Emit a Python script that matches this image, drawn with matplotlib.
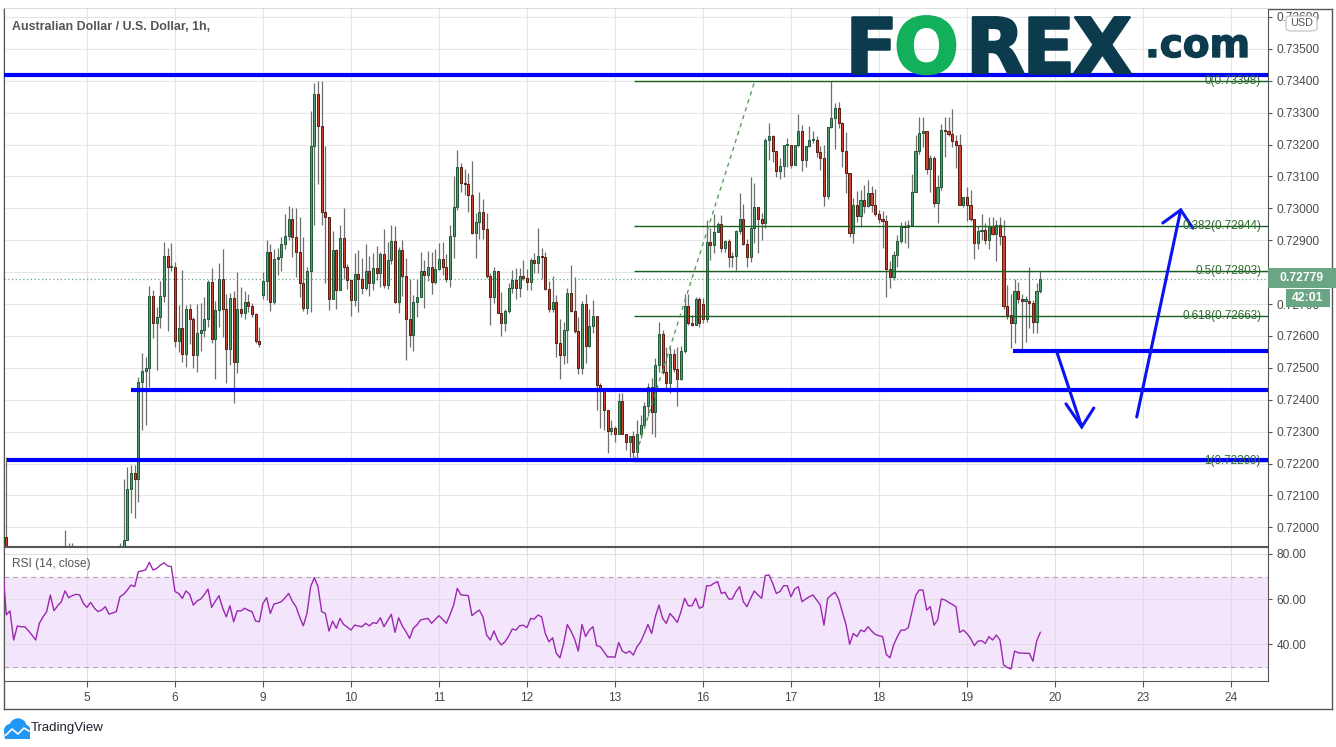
import numpy as np
import matplotlib
matplotlib.use("Agg")
import matplotlib.pyplot as plt
import matplotlib.patheffects as pe
from matplotlib.ticker import FuncFormatter, FormatStrFormatter
from matplotlib.patches import Rectangle, FancyBboxPatch, Circle
from matplotlib.lines import Line2D

plt.rcParams['font.family'] = ['Liberation Sans', 'DejaVu Sans']

W, H = 1336, 747

# AUD/USD 1h candles, values in pips above 0.7200
# bar 0 = first hour of day "5", one bar per hour, weekends skipped
first_bar = -23
first_open = -5
closes = [
    -3, -14, -13, -19, -16, -16, -16, -17, -18, -19,
    -16, -14, -13, -10, -12, -11, -10, -8, -9, -8.5,
    -8, -8, -9, -10, -9, -10, -11, -10.5, -10, -11,
    -11, -10.5, -8, -4, 12, 17, 15, 45.7, 49, 50,
    72.5, 64, 66, 72.5, 85, 81.5, 81.5, 58.5, 62.4, 54.2,
    68.6, 65.2, 53.9, 60.8, 62, 65.2, 76.9, 59.1, 68.1, 78,
    68.6, 55.8, 71.8, 51.8, 68.3, 67.1, 70.7, 69.4, 66.8, 58.5,
    57.4, 77.2, 86.2, 70.5, 84, 84.8, 88.8, 91.3, 96.8, 90.9,
    86.4, 76.5, 68.9, 80.4, 119.7, 136, 125.9, 98.7, 97.2, 71.5,
    86.9, 74.4, 90.6, 81.5, 77.5, 71.2, 79.4, 78, 74.9, 80.3,
    76.7, 81.2, 79.6, 85.7, 75.9, 83.7, 89.7, 70.5, 86.9, 78.8,
    65.2, 60.2, 70.5, 72.3, 80.4, 79, 81.7, 76.8, 81.1, 84.2,
    81.5, 77.8, 91.4, 100.3, 113, 108, 107.6, 104.2, 92.3, 95.8,
    98.9, 93.4, 78.9, 72.1, 80.3, 67.3, 64.2, 67.9, 74.9, 77.5,
    74.9, 78.8, 78.3, 77, 83.8, 83, 85.1, 84.6, 74.6, 68.6,
    70.7, 57.9, 53.9, 62, 73.6, 67.9, 61.6, 50.1, 69.9, 56.9,
    63.2, 66.3, 44.5, 43, 36.8, 30.2, 31, 29.4, 39.5, 29.4,
    26.8, 28.7, 23.7, 29.2, 32, 38, 44, 36.2, 50.8, 60.5,
    48.8, 45.3, 54.2, 49.5, 46.4, 55.3, 69.4, 64.2, 63.5, 71.7,
    64.2, 65.2, 89.5, 88.5, 92.7, 95.1, 87.6, 89.7, 84.8, 85,
    92.9, 96.8, 88.7, 84.6, 93.7, 100.3, 96.7, 95.3, 121.4, 122.7,
    118, 111.7, 113.3, 119.8, 119.8, 113.5, 119.8, 124.2, 115.1, 119.5,
    121.4, 121.4, 117.7, 115.7, 104, 125.4, 128.2, 131.6, 126.9, 118,
    111.2, 92.3, 101.2, 97.6, 102.7, 100.8, 104.7, 101.2, 98.2, 96.6,
    96.1, 80.9, 78.6, 85.4, 89.8, 94.5, 94.2, 94.9, 105, 118,
    123.5, 124.2, 112.2, 115.7, 101.8, 106.6, 124.6, 124.2, 123.3, 121.2,
    119.9, 101.2, 103.6, 101, 96.8, 89.2, 92.9, 93.1, 90, 94.4,
    92.1, 94.7, 91.3, 69.5, 66.6, 64.2, 74.1, 71.5, 71.1, 71.1,
    70.4, 64.4, 74.1, 77.8]
highs = [
    -2, 22, -10, -12, -14, -13, -14, -14, -15, -16,
    -14, -12, -11, -8, -9, -9, -8, -1, -5, -5,
    -6, -7, -7, -8, -8, -8, -9, -9, -8, -9,
    -9, -8, -5, 15, 19, 19.5, 19.5, 47.2, 54.8, 53.5,
    75.6, 74.4, 69.1, 77.3, 89.5, 87.7, 89.2, 83.3, 69.7, 80.6,
    69.6, 69.9, 66, 69.9, 70.3, 72.2, 77.5, 81.2, 71, 82.9,
    87.4, 73.3, 73.5, 74.2, 80, 75.4, 74.1, 73.3, 70.2, 67.1,
    62.9, 80, 90, 88.9, 87.1, 87.7, 91.1, 98.2, 100.7, 100,
    100, 97.4, 91.1, 81.5, 130.6, 139.4, 140, 140, 119.7, 97.4,
    93, 87.4, 94.8, 100.1, 82.5, 77.5, 86.1, 86.9, 84.4, 88.8,
    85, 86.1, 88.2, 86.4, 93.5, 89.5, 94.8, 94.5, 88, 90,
    84.3, 78, 72.8, 78, 86.4, 83.8, 86.7, 86.4, 87.1, 89,
    89.5, 85.7, 94.8, 110.1, 118.3, 114.3, 112.2, 111, 114.8, 98.6,
    105, 102.8, 98.6, 79.6, 81.7, 80.3, 73.9, 68.3, 76.5, 80.6,
    81.2, 81.2, 83.8, 80.9, 84.3, 86.1, 93.8, 87.7, 86.2, 77.3,
    78.9, 72.8, 65.2, 64.4, 75.1, 82.2, 78.6, 66, 70.9, 73.3,
    68.3, 71.2, 66, 45.3, 43, 36.8, 33.6, 31.7, 42, 42,
    29.4, 28.7, 30.3, 33.8, 35.1, 39.4, 45.3, 46.7, 53, 64.4,
    62, 56.6, 56.6, 55.8, 56.6, 56.8, 73.3, 73.3, 66.5, 72.3,
    72.3, 72, 96.3, 93.7, 98.2, 95.8, 97.9, 90, 90.3, 86.4,
    93.2, 104.7, 101.5, 90.3, 109.9, 108, 100.5, 98.4, 121.9, 126.8,
    123, 118.1, 115.7, 119.8, 121.9, 119.8, 119.8, 129.6, 126.1, 119.5,
    125.8, 124.3, 122.7, 119.5, 119.8, 125.4, 139.8, 132.9, 133.4, 127.1,
    124, 111.2, 103.1, 105.5, 105.7, 107.3, 108.9, 107, 106.2, 99.5,
    99.2, 97.9, 83.5, 86.7, 91.6, 95.6, 96.1, 96.3, 110.7, 123,
    128.5, 128.5, 124.2, 116.7, 116.4, 110.4, 126.6, 128.7, 128.5, 131,
    123, 123.3, 103.6, 106.6, 105.7, 96.8, 94.4, 98.2, 95.5, 97.4,
    97.4, 96.3, 97.4, 96.3, 75.9, 73.3, 78, 77, 73.3, 72.5,
    81.7, 71.4, 76.5, 80.5]
lows = [
    -6, -18, -16, -22, -21, -19, -19, -20, -21, -22,
    -20, -17, -15, -14, -14, -13, -12, -11, -11, -10,
    -10, -10, -11, -12, -11, -12, -13, -12, -12, -13,
    -13, -12, -12, -9, -4, 4.5, 3, 8, 30.5, 32,
    44, 59.5, 49.3, 62.4, 70.7, 61.6, 80.4, 56.6, 55, 51.9,
    50.3, 57.5, 50, 48.8, 55.2, 59.6, 62.9, 57.9, 46.4, 62.9,
    59.7, 45.3, 50.9, 39.1, 48.5, 66, 65.2, 67.6, 66, 57.9,
    56.6, 71.7, 71.4, 67.9, 69.9, 79.1, 80.4, 87.4, 90, 84.6,
    78.6, 72.1, 67.9, 66.8, 67.6, 94.8, 107.6, 94.8, 76.5, 68.1,
    71.5, 68.6, 74.4, 78, 74.8, 66.2, 69.4, 67.6, 73.3, 74.4,
    72.5, 74.4, 77.5, 75.2, 75, 74.6, 82.7, 70.2, 67.1, 72.5,
    52.6, 56.4, 55.4, 66, 72.1, 68.9, 77.3, 73, 76.2, 80.6,
    79.1, 77, 75.4, 84.3, 99.5, 105.2, 104.2, 98.9, 92.1, 84.5,
    90.3, 90.3, 78.3, 63.4, 70.2, 67.1, 60, 61.6, 67.1, 73.6,
    71.6, 72.3, 77.5, 74.4, 74.4, 79.6, 79.6, 78, 74.4, 67.6,
    67.6, 53.5, 46.4, 51.2, 51.4, 67.6, 60.8, 48.2, 48.2, 51.6,
    56.6, 60.8, 36.8, 31, 30.5, 23.4, 29, 26.8, 29.2, 29.2,
    24.2, 22.1, 22.1, 20.9, 27.9, 31.5, 34.9, 29.4, 28.4, 48.8,
    48.2, 43.5, 42.2, 48.8, 38, 46.2, 54.7, 63.4, 63.1, 63.4,
    62.8, 64, 64.4, 83.8, 85.9, 92.5, 86.4, 86.4, 81.5, 81.7,
    80.6, 92.1, 88.5, 81.5, 83.3, 89, 86.1, 90, 93.7, 115.3,
    114.6, 109.9, 109.1, 109.9, 113, 112.5, 113.5, 119.1, 111.8, 113,
    119.1, 120.4, 116.2, 112, 100.8, 102.9, 125.1, 118.5, 125.1, 113,
    104.9, 91.1, 89, 95.8, 94, 98.6, 100.3, 98.9, 97.6, 95.3,
    87.6, 72.1, 75.1, 77.5, 81.7, 89.2, 89.2, 87.7, 94.9, 105,
    117, 119.1, 110.9, 105.2, 100.5, 95.3, 105.7, 116.2, 122.7, 119.1,
    112.8, 101.2, 100.5, 96.1, 96.1, 84, 87.4, 90, 88.8, 87.4,
    91.6, 83.6, 88.5, 68.6, 65.2, 56.1, 57.9, 70.2, 55.8, 58.2,
    62.4, 60.8, 61, 73.6]
# opens after the weekend gaps (otherwise open = previous close)
gap_opens = {48: 72.7, 168: 70.0}

rsi = [
    75, 53, 54.7, 41.8, 48, 47.7, 47.7, 46, 44, 41.8,
    49.2, 52, 54.4, 61.8, 54.8, 57, 58.8, 63.6, 60.6, 61.5,
    62.1, 61.8, 58.1, 56.3, 58.5, 56, 54.4, 55.1, 56.6, 53.3,
    53.8, 54.4, 61, 62.1, 64, 66.2, 65.5, 72.1, 72.5, 72.9,
    76.3, 72.9, 73.6, 75, 76.1, 74.7, 74.4, 63.3, 62.5, 60.3,
    63.6, 62.1, 57.3, 59.1, 60, 62, 64.4, 56.3, 59, 61.5,
    56, 52.1, 57, 49.9, 54.8, 54.7, 55.9, 55, 54.4, 50.2,
    49.9, 58.1, 60.6, 53.6, 57.8, 58.2, 58.8, 60.5, 62.5, 59,
    56.6, 52, 48.1, 53.6, 65.5, 69.5, 65.5, 54.4, 53.6, 45.8,
    50.2, 47, 51.4, 48.7, 47.5, 46.2, 48.4, 48, 47.7, 49.2,
    48.1, 49.5, 49.2, 51.7, 47.7, 50.5, 53.2, 45.2, 51.7, 48,
    45.5, 42.5, 47, 48.5, 50.7, 51.1, 51.4, 49.2, 51, 52.6,
    51, 49.2, 53, 57.3, 64.7, 61.8, 61.7, 61.5, 52.6, 54,
    55.1, 52.1, 44, 41.8, 45.8, 41.8, 39.6, 41, 43.5, 46.7,
    46.2, 48.1, 48.4, 47.3, 51.4, 51.1, 52.9, 52.1, 44.7, 41,
    42.8, 35.9, 33.9, 40.3, 48.7, 45.8, 42.1, 36.9, 48.7, 43.3,
    46.2, 47.7, 39.3, 38.8, 36.6, 34.2, 34.4, 34.1, 40.7, 36.9,
    35.9, 36.9, 35.1, 38.8, 41, 44.7, 48.7, 44.7, 52.1, 57.3,
    51.4, 49.2, 53.6, 51.7, 49.6, 54.4, 60.3, 57, 57, 60.3,
    55.9, 56.6, 65.9, 65.9, 67, 67.7, 62.5, 63, 60, 60,
    63.3, 65.5, 58.8, 56.6, 60.3, 63.6, 61.8, 60.3, 70.4, 70.7,
    67, 62.5, 63.3, 65.9, 65.9, 61, 64.4, 65.5, 58.8, 60,
    61, 61.8, 59.6, 57.3, 48.4, 60.3, 61.8, 63, 60, 54.4,
    48.7, 39.9, 44.7, 43.3, 46.2, 45.5, 47.7, 45.8, 44.3, 43.7,
    43.3, 35.4, 33.9, 39.6, 43.3, 46.2, 46.2, 47.3, 54.4, 61.5,
    64, 64, 55.1, 56.6, 48.4, 50.7, 60, 59.6, 58.5, 57.6,
    56.6, 45.2, 46.2, 44.7, 42.5, 39.3, 41.3, 41.5, 40.3, 43.3,
    41.8, 44, 41.8, 30.7, 29.6, 28.9, 36.9, 36.1, 36, 35.9,
    35.9, 32.4, 41.3, 45.2]

days = [5, 6, 9, 10, 11, 12, 13, 16, 17, 18, 19, 20, 23, 24]
bars_per_day = 24

# drawings on the chart (pips above 0.7200, x in bars)
blue_levels = [141.9, 43.0, 21.1, 55.3]
blue_starts = [-22.6, 12.0, -21.8, 252.5]
fib_hi, fib_lo = 0.73398, 0.72209
fib_ratios = [0, 0.382, 0.5, 0.618, 1]
fib_start, fib_top_bar = 149.2, 182.1
last_price = 0.72779
down_arrow = [[(264.5, 55.0), (271.3, 31.5)], [(267.0, 38.7), (271.3, 31.5), (274.6, 37.4)]]
up_arrow = [[(286.3, 34.6), (298.3, 99.5)], [(293.4, 95.4), (298.3, 99.5), (301.6, 93.8)]]


def to_price(p):
    return 0.72 + np.asarray(p, dtype=float) * 1e-4


def px_box(x0, y0, x1, y1):
    return [x0 / W, 1 - y1 / H, (x1 - x0) / W, (y1 - y0) / H]


def price_label(v, pos):
    # the 0.72800 label sits under the last-price badge
    if abs(v - 0.728) < 1e-6:
        return ''
    return f'{v:.5f}'


fig = plt.figure(figsize=(W / 100, H / 100), dpi=100)
fig.patch.set_facecolor('white')

frame = fig.add_axes(px_box(4, 9, 1332, 709), zorder=0)
frame.set_xticks([])
frame.set_yticks([])
for s in frame.spines.values():
    s.set_color('#555555')
    s.set_linewidth(1)

ax = fig.add_axes(px_box(4, 9, 1268, 546), zorder=1)
ax_rsi = fig.add_axes(px_box(4, 547, 1268, 681), zorder=1, sharex=ax)

x = np.arange(first_bar, first_bar + len(closes))
c = np.array(closes, dtype=float)
hi = np.array(highs, dtype=float)
lo = np.array(lows, dtype=float)
o = np.r_[first_open, c[:-1]]
for b, v in gap_opens.items():
    o[b - first_bar] = v

xmin, xmax = -22.63, 322.1
day_pos = np.arange(len(days)) * bars_per_day

# price panel
ax.set_xlim(xmin, xmax)
ax.set_ylim(to_price(-5.86), to_price(162.5))
ax.set_xticks(day_pos)
ax.set_yticks(np.arange(0.7200, 0.73605, 0.001))
ax.grid(True, color='#e6e6e6', lw=0.8)
ax.set_axisbelow(True)
ax.yaxis.tick_right()
ax.yaxis.set_major_formatter(FuncFormatter(price_label))
ax.tick_params(axis='x', length=0, labelbottom=False)
ax.tick_params(axis='y', length=3, pad=3, labelsize=8.6, color='#555555', labelcolor='#4a4a4a')
ax.spines['top'].set_visible(False)
for s in ['left', 'right', 'bottom']:
    ax.spines[s].set_color('#555555')

ax.vlines(x, to_price(lo), to_price(hi), color='#6f6f6f', lw=0.9, zorder=2)
body_lo = np.minimum(o, c)
body_h = np.maximum(np.abs(c - o), 0.35)
up = c >= o
ax.bar(x[up], body_h[up] * 1e-4, bottom=to_price(body_lo[up]), width=0.62,
       color='#4f9e72', edgecolor='#1f5636', linewidth=0.7, zorder=3)
ax.bar(x[~up], body_h[~up] * 1e-4, bottom=to_price(body_lo[~up]), width=0.62,
       color='#cc4430', edgecolor='#5c1a10', linewidth=0.7, zorder=3)

ax.axhline(last_price, color='#6aa584', ls=(0, (1, 2)), lw=0.9, zorder=2)

# fibonacci retracement
for r in fib_ratios:
    lvl = fib_hi - r * (fib_hi - fib_lo)
    ax.hlines(lvl, fib_start, xmax, color='#1b5e20', lw=1, zorder=4)
    ax.text(320.2, lvl, f"{r:g}({lvl:.5f})", ha='right', va='center',
            fontsize=8.4, color='#2e6b2e', zorder=6)
ax.plot([fib_start, fib_top_bar], [fib_lo, fib_hi], color='#5c9c5c',
        ls=(0, (3, 3)), lw=1, zorder=4)

# blue support / resistance lines and arrows
for lvl, start in zip(blue_levels, blue_starts):
    ax.hlines(to_price(lvl), start, xmax, color='#0000ff', lw=3, zorder=5)
for arrow in (down_arrow, up_arrow):
    for seg in arrow:
        xs, ys = zip(*seg)
        ax.plot(xs, to_price(ys), color='#0a14f0', lw=2.2,
                solid_capstyle='round', solid_joinstyle='miter', zorder=5)

# RSI panel
ax_rsi.set_ylim(23.6, 83.1)
ax_rsi.axhspan(30, 70, color='#f3e6fc', zorder=0)
ax_rsi.axhline(70, color='#a8a8a8', ls=(0, (4, 4)), lw=0.8, zorder=1)
ax_rsi.axhline(30, color='#a8a8a8', ls=(0, (4, 4)), lw=0.8, zorder=1)
ax_rsi.plot(x, rsi, color='#9c27b0', lw=1, zorder=3)
ax_rsi.set_yticks([40, 60, 80])
ax_rsi.yaxis.tick_right()
ax_rsi.yaxis.set_major_formatter(FormatStrFormatter('%.2f'))
ax_rsi.grid(True, color='#e3dce8', lw=0.8, zorder=1)
ax_rsi.set_axisbelow(True)
ax_rsi.set_xticks(day_pos)
ax_rsi.set_xticklabels([str(d) for d in days])
ax_rsi.tick_params(axis='y', length=3, pad=3, labelsize=8.6, color='#555555', labelcolor='#4a4a4a')
ax_rsi.tick_params(axis='x', length=4, pad=4, labelsize=8.6, color='#555555', labelcolor='#4a4a4a')
for s in ax_rsi.spines.values():
    s.set_color('#555555')
ax_rsi.text(0.006, 0.87, 'RSI (14, close)', transform=ax_rsi.transAxes,
            fontsize=8.6, color='#555555', va='center')

# header text
fig.text(12 / W, 1 - 27 / H, 'Australian Dollar / U.S. Dollar, 1h,', fontsize=8.9,
         fontweight='bold', color='#555555', va='center')

# FOREX.com logo
teal, green = '#0b3b4d', '#12b05a'
base = 1 - 73 / H
for ch, px, col in [('F', 845, teal), ('O', 894, green), ('R', 966, teal),
                    ('E', 1022, teal), ('X', 1073, teal)]:
    fig.text(px / W, base, ch, fontsize=55, fontweight='bold', color=col,
             family='DejaVu Sans', va='baseline', ha='left',
             path_effects=[pe.withStroke(linewidth=1.8, foreground=col)])
fig.text(1145 / W, base + 16 / H, '.com', fontsize=28, fontweight='bold', color=teal,
         family='DejaVu Sans', va='baseline', ha='left',
         path_effects=[pe.withStroke(linewidth=1, foreground=teal)])

# price badges on the right axis
fig.patches.append(Rectangle((1268 / W, 1 - 288 / H), 68 / W, 20 / H,
                             transform=fig.transFigure, fc='#6aa584', ec='none', zorder=5))
fig.text(1302 / W, 1 - 278 / H, '0.72779', fontsize=8.8, fontweight='bold',
         color='white', ha='center', va='center', zorder=6)
fig.patches.append(Rectangle((1286 / W, 1 - 307 / H), 44 / W, 18 / H,
                             transform=fig.transFigure, fc='#6aa584', ec='none', zorder=5))
fig.text(1308 / W, 1 - 298 / H, '42:01', fontsize=8.8, fontweight='bold',
         color='white', ha='center', va='center', zorder=6)
fig.patches.append(FancyBboxPatch((1286 / W, 1 - 31 / H), 31 / W, 15 / H,
                                  boxstyle='round,pad=0,rounding_size=0.004',
                                  transform=fig.transFigure, fc='white', ec='#c0c0c0',
                                  lw=0.8, zorder=5))
fig.text(1301.5 / W, 1 - 23.5 / H, 'USD', fontsize=7.8, color='#555555',
         ha='center', va='center', zorder=6)

# TradingView mark
icon = fig.add_axes(px_box(4, 718, 30, 739))
icon.set_xlim(0, 26)
icon.set_ylim(0, 21)
icon.axis('off')
for cx, cy, r in [(7, 8, 6.5), (14, 12, 8), (20, 8, 6)]:
    icon.add_patch(Circle((cx, cy), r, color='#2196f3'))
icon.add_patch(Rectangle((1, 1.5), 24, 7, color='#2196f3'))
icon.add_line(Line2D([2, 8, 14, 20, 25], [4, 10, 5, 11, 8], color='white', lw=1.2))
fig.text(31 / W, 1 - 728 / H, 'TradingView', fontsize=9.5, color='#1e222d', va='center')

fig.savefig('out.png', dpi=100, facecolor='white')
